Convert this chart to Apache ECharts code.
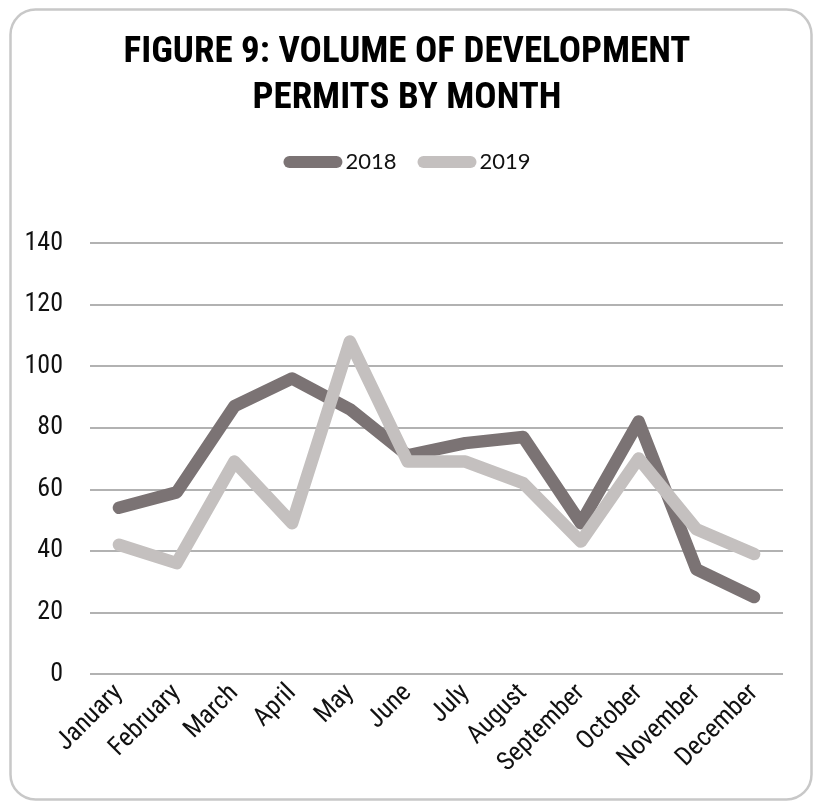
<!DOCTYPE html>
<html>
<head>
<meta charset="utf-8">
<title>Figure 9: Volume of Development Permits by Month</title>
<script src="https://cdn.jsdelivr.net/npm/echarts@6/dist/echarts.min.js"></script>
<style>
  html, body { margin: 0; padding: 0; background: #ffffff; }
  #chart { width: 814px; height: 803px; }
</style>
</head>
<body>
<div id="chart"></div>
<script>
// Months along the category axis
const months = ['January', 'February', 'March', 'April', 'May', 'June',
                'July', 'August', 'September', 'October', 'November', 'December'];

// Development permits issued per month
const permits2018 = [54, 59, 87, 96, 86, 71, 75, 77, 49, 82, 34, 25];
const permits2019 = [42, 36, 69, 49, 108, 69, 69, 62, 43, 70, 47, 39];

// Value axis ticks
const yTicks = [0, 20, 40, 60, 80, 100, 120, 140];

const seriesNames = ['2018', '2019'];
const seriesColors = ['#7b7374', '#c4c0bf'];

const chart = echarts.init(document.getElementById('chart'), null, { renderer: 'canvas' });

const condensed = '"Roboto Condensed", "DejaVu Sans Condensed", sans-serif';
const pill = 'path://M6,0 L53,0 A6,6 0 0 1 53,12 L6,12 A6,6 0 0 1 6,0 Z';

chart.setOption({
  backgroundColor: '#ffffff',
  animation: false,
  title: {
    text: 'FIGURE 9: VOLUME OF DEVELOPMENT\nPERMITS BY MONTH',
    left: 'center',
    top: 25,
    textStyle: {
      fontFamily: condensed,
      fontWeight: 'bold',
      fontSize: 37,
      lineHeight: 46,
      color: '#000000'
    }
  },
  legend: {
    data: seriesNames,
    top: 146,
    left: 'center',
    itemWidth: 59,
    itemHeight: 12,
    itemGap: 21,
    icon: pill,
    textStyle: {
      fontFamily: 'Lato, "DejaVu Sans", sans-serif',
      fontSize: 22,
      color: '#111111',
      padding: [0, 0, 0, -2]
    }
  },
  grid: {
    left: 90,
    right: 31,
    top: 243,
    bottom: 129,
    containLabel: false
  },
  xAxis: {
    type: 'category',
    data: months,
    boundaryGap: true,
    axisLine: { show: false },
    axisTick: { show: false },
    axisLabel: {
      rotate: 45,
      margin: 15,
      interval: 0,
      fontFamily: condensed,
      fontSize: 26,
      color: '#111111'
    }
  },
  yAxis: {
    type: 'value',
    min: yTicks[0],
    max: yTicks[yTicks.length - 1],
    interval: yTicks[1] - yTicks[0],
    axisLine: { show: false },
    axisTick: { show: false },
    axisLabel: {
      margin: 27,
      fontFamily: condensed,
      fontSize: 26,
      color: '#111111'
    },
    splitLine: {
      show: true,
      lineStyle: { color: '#999999', width: 1.5 }
    }
  },
  series: [
    {
      name: seriesNames[0],
      type: 'line',
      data: permits2018,
      symbol: 'none',
      color: seriesColors[0],
      lineStyle: { width: 12.5, color: seriesColors[0], cap: 'round', join: 'round' },
      z: 2
    },
    {
      name: seriesNames[1],
      type: 'line',
      data: permits2019,
      symbol: 'none',
      color: seriesColors[1],
      lineStyle: { width: 12.5, color: seriesColors[1], cap: 'round', join: 'round' },
      z: 3
    }
  ],
  graphic: [
    {
      type: 'rect',
      left: 8,
      top: 7,
      shape: { width: 801, height: 790, r: 25 },
      style: { fill: 'none', stroke: '#c8c8c8', lineWidth: 2.5 },
      silent: true,
      z: -1
    }
  ]
});
</script>
</body>
</html>
